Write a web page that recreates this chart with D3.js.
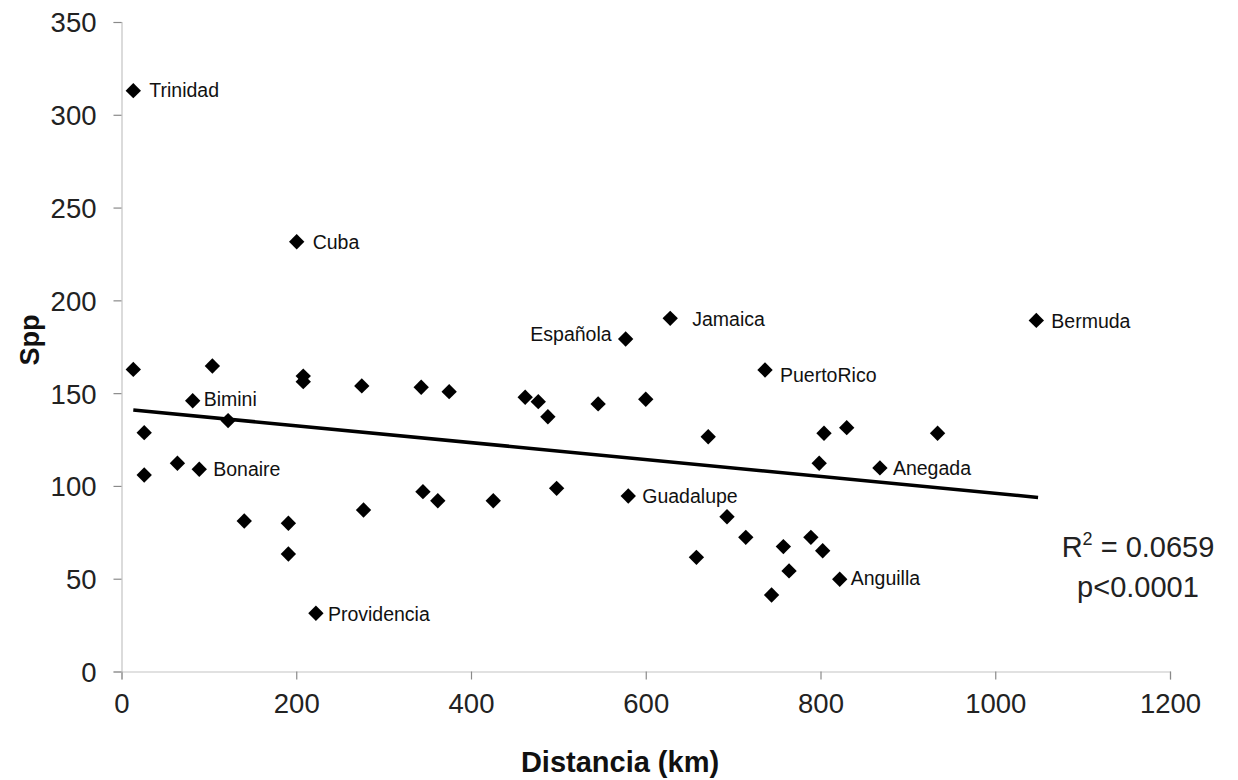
<!DOCTYPE html>
<html>
<head>
<meta charset="utf-8">
<script src="https://cdn.jsdelivr.net/npm/d3@7"></script>
<style>
  html, body { margin: 0; padding: 0; background: #fff; }
  svg { display: block; font-family: Arial, "Liberation Sans", sans-serif; }
</style>
</head>
<body>
<svg id="chart" width="1238" height="780"></svg>
<script>
// Distance (km) and species count for each island
const distancia = [13.5, 26, 26, 104, 81.5, 122, 64, 89, 140.5, 191, 191, 208, 208, 222.5, 275, 277,
  343, 375, 345, 362, 425.5, 462, 477, 488, 498, 545.5, 577, 628, 580, 600, 671.5, 736.5, 658,
  693, 714.5, 757.5, 744, 764, 789, 802.5, 822, 804, 830, 798.5, 868, 1047, 934, 13.5, 200.5];
const spp = [162.8, 128.7, 105.9, 164.6, 145.9, 135.2, 112.2, 109, 81.1, 79.9, 63.3, 159.2, 156.2, 31.4, 153.9, 87,
  153.2, 150.8, 96.9, 92, 92, 147.8, 145.4, 137.3, 98.7, 144.2, 179.2, 190.3, 94.6, 146.7, 126.5, 162.5, 61.5,
  83.4, 72.3, 67.3, 41.2, 54.2, 72.3, 65.1, 49.7, 128.4, 131.4, 112.2, 109.7, 189.2, 128.4, 313, 231.6];
const etiquetas = ["", "", "", "", "Bimini", "", "", "Bonaire", "", "", "", "", "", "Providencia", "", "",
  "", "", "", "", "", "", "", "", "", "", "Española", "Jamaica", "Guadalupe", "", "", "PuertoRico", "",
  "", "", "", "", "", "", "", "Anguilla", "", "", "", "Anegada", "Bermuda", "", "Trinidad", "Cuba"];
// Trend line end points (distance, spp)
const trendX = [13.5, 1049];
const trendY = [140.9, 93.8];
const xTicks = [0, 200, 400, 600, 800, 1000, 1200];
const yTicks = [0, 50, 100, 150, 200, 250, 300, 350];
const statLines = ["R2 = 0.0659", "p<0.0001"];

const svg = d3.select("#chart");
const x = d3.scaleLinear().domain([0, 1200]).range([121.5, 1170]);
const y = d3.scaleLinear().domain([0, 350]).range([671.5, 22]);

// axes
const xAxis = svg.append("g").attr("transform", `translate(0,${y(0)})`)
  .call(d3.axisBottom(x).tickValues(xTicks).tickSize(8).tickPadding(14).tickFormat(d3.format("d")));
const yAxis = svg.append("g").attr("transform", `translate(${x(0)},0)`)
  .call(d3.axisLeft(y).tickValues(yTicks).tickSize(8).tickPadding(17).tickFormat(d3.format("d")));
[xAxis, yAxis].forEach(g => {
  g.select(".domain").attr("stroke", "#c4c4c4").attr("stroke-width", 1.2);
  g.selectAll(".tick line").attr("stroke", "#8a8a8a").attr("stroke-width", 1.2);
  g.selectAll(".tick text").attr("fill", "#222").style("font-size", "27.5px")
    .style("font-family", "Arial, 'Liberation Sans', sans-serif");
});
yAxis.selectAll(".tick text").attr("dy", "0.36em");

// axis titles
svg.append("text").attr("x", 620).attr("y", 772).attr("text-anchor", "middle")
  .style("font-size", "29px").style("font-weight", "bold").attr("fill", "#111")
  .text("Distancia (km)");
svg.append("text").attr("transform", "translate(39,340) rotate(-90)").attr("text-anchor", "middle")
  .style("font-size", "27px").style("font-weight", "bold").attr("fill", "#111")
  .text("Spp");

// trend line
const trend = trendX.map((d, i) => [d, trendY[i]]);
svg.append("path").datum(trend)
  .attr("d", d3.line().x(d => x(d[0])).y(d => y(d[1])))
  .attr("stroke", "#000").attr("stroke-width", 3.6).attr("fill", "none");

// points
const pts = distancia.map((d, i) => ({ x: d, y: spp[i], name: etiquetas[i] }));
const sym = d3.symbol(d3.symbolSquare, 118);
svg.append("g").selectAll("path").data(pts).join("path")
  .attr("d", sym)
  .attr("transform", d => `translate(${x(d.x)},${y(d.y)}) rotate(45)`)
  .attr("fill", "#000");

// labels
const offsets = {
  "Trinidad": [16, 0], "Cuba": [16, 0], "Bimini": [11, -2], "Bonaire": [14, 0],
  "Providencia": [12, 1], "Española": [-14, -5], "Jamaica": [22, 1], "PuertoRico": [15, 5],
  "Guadalupe": [14, 0], "Anguilla": [11, -1], "Anegada": [13, 0], "Bermuda": [15, 1]
};
svg.append("g").selectAll("text").data(pts.filter(d => d.name)).join("text")
  .attr("x", d => x(d.x) + offsets[d.name][0])
  .attr("y", d => y(d.y) + offsets[d.name][1])
  .attr("dy", "0.35em")
  .attr("text-anchor", d => offsets[d.name][0] < 0 ? "end" : "start")
  .style("font-size", "19.5px").attr("fill", "#111")
  .text(d => d.name);

// statistics
const stat = svg.append("text").attr("text-anchor", "middle").style("font-size", "29px").attr("fill", "#222");
const l1 = stat.append("tspan").attr("x", 1138).attr("y", 557);
l1.append("tspan").text("R");
l1.append("tspan").attr("dy", -12).style("font-size", "18px").text("2");
l1.append("tspan").attr("dy", 12).text(" = 0.0659");
stat.append("tspan").attr("x", 1138).attr("y", 597).text(statLines[1]);
</script>
</body>
</html>
